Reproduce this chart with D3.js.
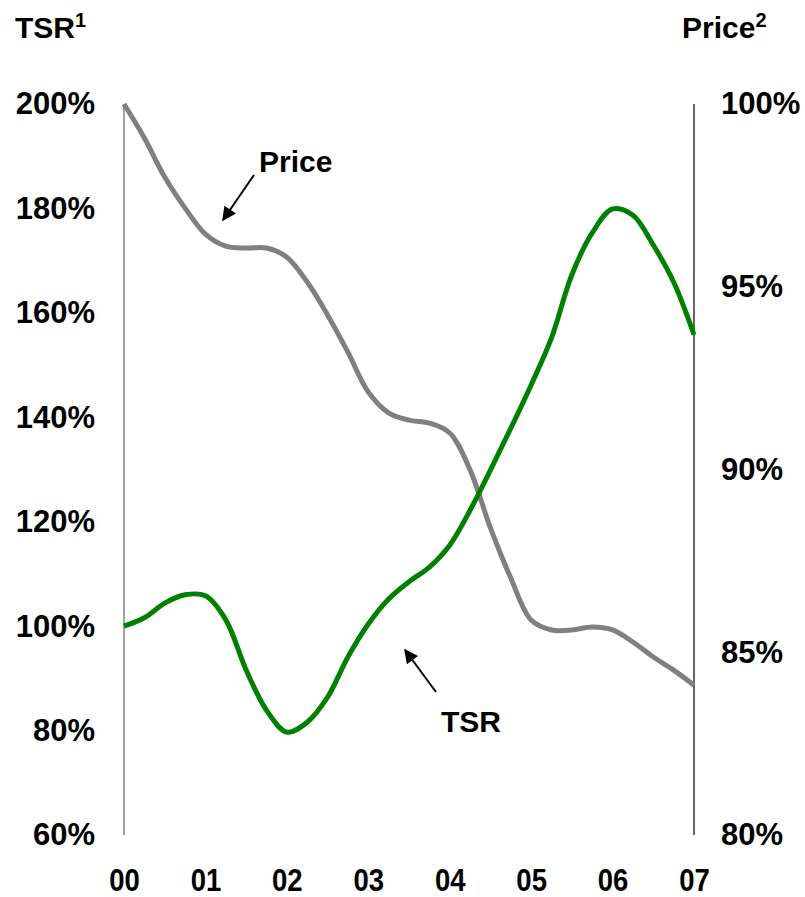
<!DOCTYPE html>
<html>
<head>
<meta charset="utf-8">
<script src="https://cdn.jsdelivr.net/npm/d3@7"></script>
<style>
  body { margin: 0; background: #fff; }
  text { font-family: "Liberation Sans", Arial, sans-serif; font-weight: bold; fill: #000; }
</style>
</head>
<body>
<div id="chart"></div>
<script>
// years on the x axis, quarterly points between them
const yearLabels = ["00", "01", "02", "03", "04", "05", "06", "07"];
const quarters = d3.range(0, 29).map(k => k / 4);

// TSR, left axis (%)
const tsrValues = [100.0, 101.6, 104.4, 106.0, 105.8, 101.2, 91.6, 83.9, 79.7, 81.6,
  86.4, 94.1, 100.4, 105.2, 108.5, 111.3, 115.5, 122.2, 129.9, 137.9,
  146.2, 155.2, 167.3, 175.3, 179.9, 178.7, 173.0, 165.9, 155.8];

// Price, right axis (%)
const priceValues = [100.0, 99.07, 98.0, 97.15, 96.44, 96.11, 96.06, 96.06, 95.81, 95.13,
  94.23, 93.21, 92.12, 91.55, 91.35, 91.27, 91.0, 89.99, 88.4, 87.03,
  85.88, 85.61, 85.61, 85.69, 85.61, 85.28, 84.87, 84.51, 84.1];

const leftTicks = [60, 80, 100, 120, 140, 160, 180, 200];
const rightTicks = [80, 85, 90, 95, 100];

const width = 805, height = 897;
const svg = d3.select("#chart").append("svg")
  .attr("width", width).attr("height", height);

const x = d3.scaleLinear().domain([0, 7]).range([124, 694]);
const yL = d3.scaleLinear().domain([60, 200]).range([835, 104]);
const yR = d3.scaleLinear().domain([80, 100]).range([835, 104]);

// vertical axis lines
svg.append("line")
  .attr("x1", x(0)).attr("x2", x(0)).attr("y1", yL(200)).attr("y2", yL(60))
  .attr("stroke", "#808080").attr("stroke-width", 1.5);
svg.append("line")
  .attr("x1", x(7)).attr("x2", x(7)).attr("y1", yR(100)).attr("y2", yR(80))
  .attr("stroke", "#000").attr("stroke-width", 1.2);

// axes
const leftAxis = svg.append("g")
  .attr("transform", `translate(${x(0)},0)`)
  .call(d3.axisLeft(yL).tickValues(leftTicks).tickSize(0).tickPadding(29).tickFormat(d => d + "%"));
const rightAxis = svg.append("g")
  .attr("transform", `translate(${x(7)},0)`)
  .call(d3.axisRight(yR).tickValues(rightTicks).tickSize(0).tickPadding(27).tickFormat(d => d + "%"));
const bottomAxis = svg.append("g")
  .attr("transform", "translate(0,835)")
  .call(d3.axisBottom(x).tickValues(d3.range(0, 8)).tickSize(0).tickFormat(i => yearLabels[i]));

[leftAxis, rightAxis, bottomAxis].forEach(g => {
  g.select(".domain").remove();
  g.selectAll("text").attr("font-size", 31).attr("fill", "#000")
    .attr("font-family", "Liberation Sans, Arial, sans-serif").attr("font-weight", "bold");
});
// x ticks are a little taller and narrower in the original
bottomAxis.selectAll("text").attr("font-size", 32).attr("y", 56).attr("dy", 0)
  .attr("transform", "scale(0.86,1)");

// lines
const priceLine = d3.line()
  .x((d, i) => x(quarters[i]))
  .y(d => yR(d))
  .curve(d3.curveCatmullRom);
const tsrLine = d3.line()
  .x((d, i) => x(quarters[i]))
  .y(d => yL(d))
  .curve(d3.curveCatmullRom);

svg.append("path").datum(priceValues)
  .attr("d", priceLine).attr("fill", "none")
  .attr("stroke", "#808080").attr("stroke-width", 5);
svg.append("path").datum(tsrValues)
  .attr("d", tsrLine).attr("fill", "none")
  .attr("stroke", "#008000").attr("stroke-width", 5);

// axis titles
const t1 = svg.append("text").attr("x", 15).attr("y", 38).attr("font-size", 30);
t1.append("tspan").text("TSR");
t1.append("tspan").attr("font-size", 20).attr("dy", -11).text("1");
const t2 = svg.append("text").attr("x", 682).attr("y", 38).attr("font-size", 30);
t2.append("tspan").text("Price");
t2.append("tspan").attr("font-size", 20).attr("dy", -11).text("2");

// annotations
svg.append("defs").append("marker")
  .attr("id", "arrow").attr("viewBox", "0 0 10 10")
  .attr("refX", 9).attr("refY", 5)
  .attr("markerWidth", 15).attr("markerHeight", 14)
  .attr("markerUnits", "userSpaceOnUse")
  .attr("orient", "auto")
  .append("path").attr("d", "M0,0 L10,5 L0,10 z").attr("fill", "#000");

svg.append("text").attr("x", 259).attr("y", 172).attr("font-size", 30).text("Price");
svg.append("line")
  .attr("x1", 254).attr("y1", 175).attr("x2", 223).attr("y2", 220)
  .attr("stroke", "#000").attr("stroke-width", 2)
  .attr("marker-end", "url(#arrow)");

svg.append("text").attr("x", 441).attr("y", 732).attr("font-size", 30).text("TSR");
svg.append("line")
  .attr("x1", 436).attr("y1", 692).attr("x2", 405).attr("y2", 650)
  .attr("stroke", "#000").attr("stroke-width", 2)
  .attr("marker-end", "url(#arrow)");
</script>
</body>
</html>
